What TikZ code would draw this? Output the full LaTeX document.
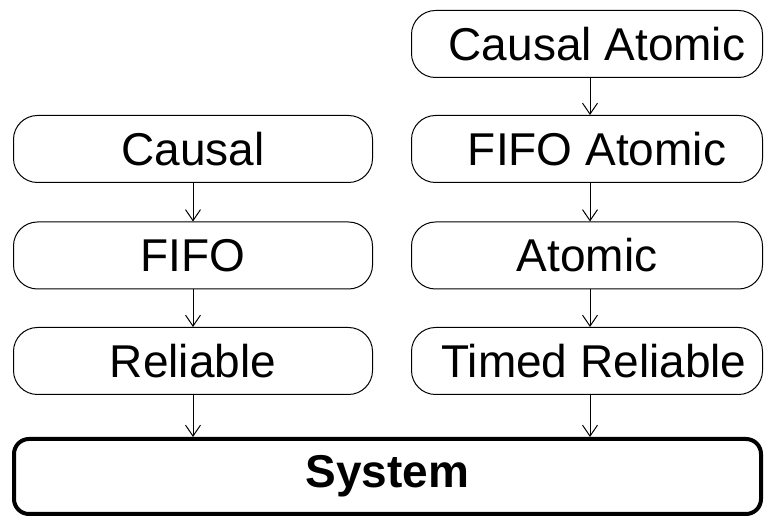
\documentclass[tikz,border=0pt]{standalone}
\usepackage{fontspec}
\setmainfont{Liberation Sans}
\usetikzlibrary{arrows.meta}
\begin{document}
\begin{tikzpicture}[x=1pt,y=1pt,
 box/.style={draw, line width=1pt, rounded corners=24pt, minimum width=359pt, minimum height=67pt, inner sep=0pt, font=\fontsize{46}{50}\selectfont},
 rbox/.style={box, minimum width=351pt},
 sysbox/.style={draw, line width=4pt, rounded corners=15pt, minimum width=747pt, minimum height=75pt, inner sep=0pt, font=\fontsize{46}{50}\selectfont\bfseries},
 arr/.style={line width=1pt, -{Straight Barb[length=11pt,width=15pt,line width=1pt]}}
]
\useasboundingbox (0,0) rectangle (765,518);
\node[rbox] (ca) at (587,474) {\hspace*{20pt}Causal Atomic};
\node[box] (causal) at (193,369) {Causal};
\node[rbox] (fa) at (587,369) {\hspace*{20pt}FIFO Atomic};
\node[box] (fifo) at (193,262.5) {FIFO};
\node[rbox] (atomic) at (587,262.5) {Atomic};
\node[box] (rel) at (193,157) {Reliable};
\node[rbox] (trel) at (587,157) {\hspace*{14pt}Timed Reliable};
\node[sysbox] (sys) at (387.5,41.5) {System};
\draw[arr] ([xshift=3pt]ca.south) -- ([xshift=3pt]fa.north);
\draw[arr] ([xshift=3pt]fa.south) -- ([xshift=3pt]atomic.north);
\draw[arr] ([xshift=3pt]atomic.south) -- ([xshift=3pt]trel.north);
\draw[arr] ([xshift=3pt]trel.south) -- ([xshift=3pt]trel.south |- sys.north);
\draw[arr] (causal.south) -- (fifo.north);
\draw[arr] (fifo.south) -- (rel.north);
\draw[arr] (rel.south) -- (rel.south |- sys.north);
\end{tikzpicture}
\end{document}
